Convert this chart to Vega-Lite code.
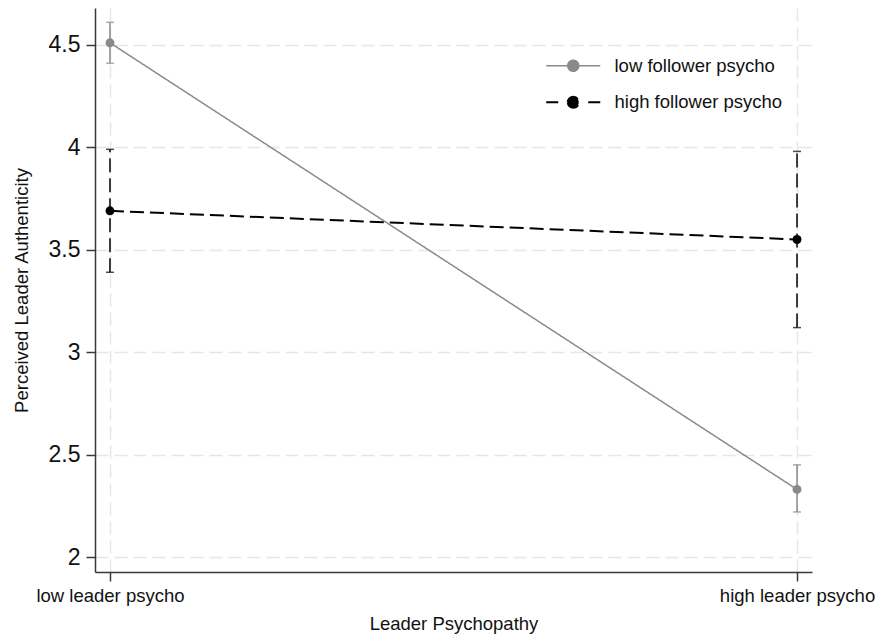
{
  "$schema": "https://vega.github.io/schema/vega-lite/v6.json",
  "autosize": {"type": "none"},
  "padding": {"left": 95, "top": 8, "right": 64, "bottom": 65},
  "width": 717,
  "height": 564,
  "background": "white",
  "config": {
    "view": {"stroke": null},
    "font": "Liberation Sans",
    "axis": {
      "domainColor": "#3a3a3a",
      "domainWidth": 1.5,
      "tickColor": "#3a3a3a",
      "tickWidth": 1.5,
      "tickSize": 9,
      "labelColor": "#111",
      "titleColor": "#111",
      "titleFontWeight": "normal",
      "gridColor": "#e6e6e6",
      "gridWidth": 1.5,
      "gridDash": [13, 6]
    }
  },
  "data": {
    "values": [
      {"follower": "low follower psycho", "leader": "low leader psycho", "mean": 4.51, "lo": 4.41, "hi": 4.61},
      {"follower": "low follower psycho", "leader": "high leader psycho", "mean": 2.33, "lo": 2.22, "hi": 2.45},
      {"follower": "high follower psycho", "leader": "low leader psycho", "mean": 3.69, "lo": 3.39, "hi": 3.99},
      {"follower": "high follower psycho", "leader": "high leader psycho", "mean": 3.55, "lo": 3.12, "hi": 3.98}
    ]
  },
  "encoding": {
    "x": {
      "field": "leader",
      "type": "nominal",
      "sort": ["low leader psycho", "high leader psycho"],
      "scale": {"type": "point", "padding": 0.0218},
      "axis": {
        "title": "Leader Psychopathy",
        "labelAngle": 0,
        "labelFontSize": 18.5,
        "labelPadding": 5,
        "titleFontSize": 18.5,
        "titlePadding": 10,
        "grid": true
      }
    },
    "color": {
      "field": "follower",
      "type": "nominal",
      "scale": {"domain": ["low follower psycho", "high follower psycho"], "range": ["#8a8a8a", "#000000"]},
      "legend": {
        "title": null,
        "orient": "none",
        "legendX": 469,
        "legendY": 48.5,
        "labelFontSize": 18.5,
        "labelColor": "#111",
        "labelLimit": 400,
        "labelOffset": 32,
        "rowPadding": 16.5,
        "symbolSize": 100,
        "symbolStrokeWidth": 1.5,
        "padding": 0,
        "encode": {
          "symbols": {
            "update": {
              "shape": {"signal": "datum.value === 'low follower psycho' ? 'M-5.4,0H5.4M-1.1,0A1.1,1.1 0 1,1 1.1,0A1.1,1.1 0 1,1 -1.1,0Z' : 'M-5.4,0H-3M-1.1,0A1.1,1.1 0 1,1 1.1,0A1.1,1.1 0 1,1 -1.1,0ZM3,0H5.4'"},
              "fill": {"signal": "datum.value === 'low follower psycho' ? '#8a8a8a' : '#000000'"},
              "stroke": {"signal": "datum.value === 'low follower psycho' ? '#8a8a8a' : '#000000'"},
              "strokeWidth": {"value": 1.5},
              "strokeDash": {"value": [1, 0]},
              "opacity": {"value": 1}
            }
          }
        }
      }
    }
  },
  "layer": [
    {
      "mark": {"type": "rule"},
      "encoding": {
        "y": {
          "field": "lo",
          "type": "quantitative",
          "scale": {"domain": [1.927, 4.68], "nice": false, "zero": false},
          "axis": {
            "title": "Perceived Leader Authenticity",
            "values": [2, 2.5, 3, 3.5, 4, 4.5],
            "labelExpr": "toString(datum.value)",
            "labelFontSize": 23,
            "labelPadding": 6,
            "titleFontSize": 18.5,
            "titlePadding": 17
          }
        },
        "y2": {"field": "hi"},
        "strokeDash": {
          "field": "follower",
          "type": "nominal",
          "scale": {"domain": ["low follower psycho", "high follower psycho"], "range": [[1, 0], [14, 6]]},
          "legend": null
        },
        "strokeWidth": {"value": 1.5}
      }
    },
    {
      "mark": {"type": "tick", "thickness": 1.5, "size": 8},
      "encoding": {
        "y": {"field": "lo", "type": "quantitative"}
      }
    },
    {
      "mark": {"type": "tick", "thickness": 1.5, "size": 8},
      "encoding": {
        "y": {"field": "hi", "type": "quantitative"}
      }
    },
    {
      "mark": {"type": "line"},
      "encoding": {
        "y": {"field": "mean", "type": "quantitative"},
        "detail": {"field": "follower"},
        "strokeDash": {"field": "follower", "type": "nominal", "legend": null},
        "strokeWidth": {
          "field": "follower",
          "type": "nominal",
          "legend": null,
          "scale": {"type": "ordinal", "domain": ["low follower psycho", "high follower psycho"], "range": [1.5, 2]}
        }
      }
    },
    {
      "mark": {"type": "point", "filled": true, "size": 80, "opacity": 1},
      "encoding": {
        "y": {"field": "mean", "type": "quantitative"}
      }
    }
  ]
}
